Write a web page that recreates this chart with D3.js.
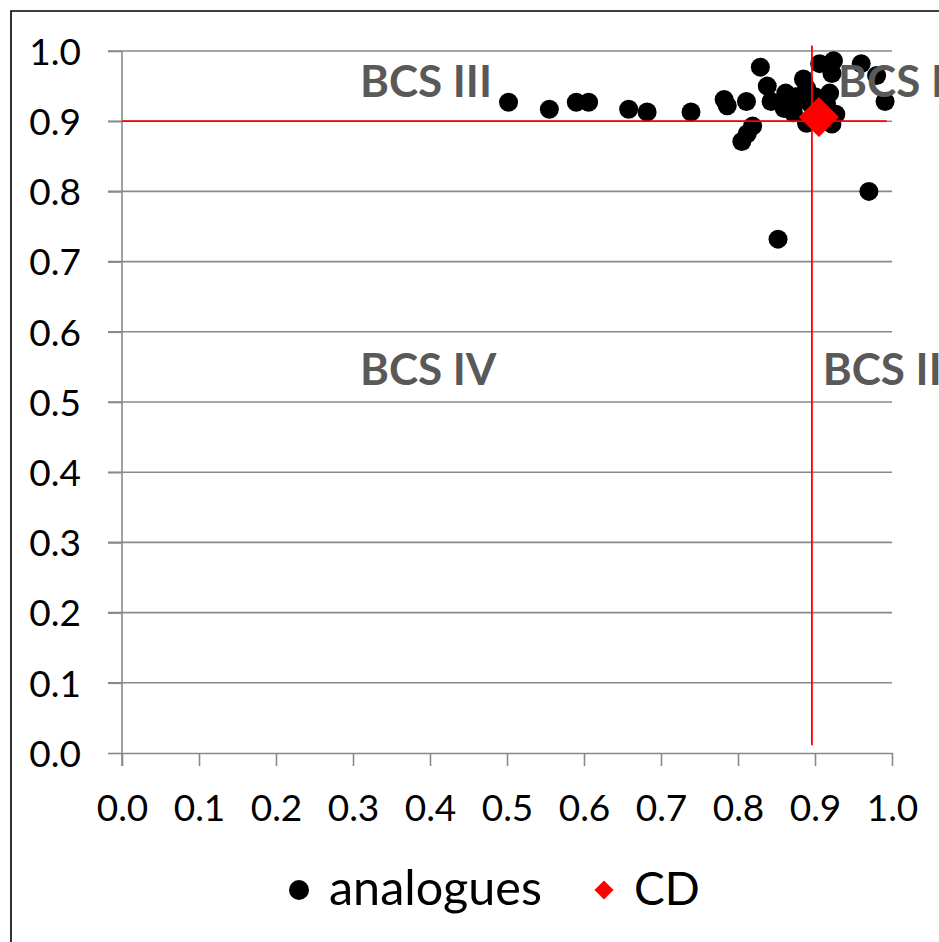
<!DOCTYPE html>
<html><head><meta charset="utf-8">
<script src="https://cdn.jsdelivr.net/npm/d3@7"></script>
<style>
html,body{margin:0;padding:0;background:#fff;}
svg{display:block;}
</style></head>
<body>
<svg id="chart" width="939" height="942"></svg>
<script>
const xTicks = [0,0.1,0.2,0.3,0.4,0.5,0.6,0.7,0.8,0.9,1.0];
const yTicks = [0,0.1,0.2,0.3,0.4,0.5,0.6,0.7,0.8,0.9,1.0];
const analoguesX = [0.502,0.555,0.590,0.606,0.658,0.682,0.739,
  0.782,0.786,0.811,0.829,0.838,0.843,0.805,0.812,0.819,
  0.862,0.860,0.872,0.885,0.889,0.894,0.889,0.880,0.875,0.900,
  0.906,0.924,0.922,0.919,0.922,0.927,0.915,
  0.960,0.980,0.991,0.970,0.852];
const analoguesY = [0.927,0.917,0.927,0.927,0.917,0.913,0.913,
  0.931,0.922,0.928,0.977,0.950,0.928,0.871,0.882,0.893,
  0.940,0.918,0.912,0.960,0.947,0.925,0.897,0.930,0.935,0.935,
  0.982,0.986,0.968,0.940,0.896,0.910,0.925,
  0.982,0.965,0.928,0.800,0.732];
const cdX = [0.905];
const cdY = [0.906];
const hLineX = [0, 0.993], hLineY = [0.9, 0.9];
const vLineX = [0.896, 0.896], vLineY = [0.011, 1.008];
const regionLabels = ["BCS III","BCS I","BCS IV","BCS II"];
const regionLabelX = [0.309, 0.930, 0.309, 0.910];
const regionLabelY = [0.934, 0.934, 0.524, 0.524];
const seriesNames = ["analogues","CD"];

const FONT = "Lato, 'Open Sans', sans-serif";
const svg = d3.select("#chart");
const x = d3.scaleLinear().domain([0,1]).range([122,892]);
const y = d3.scaleLinear().domain([0,1]).range([753,51]);
const GRID = "#898989";

// outer chart border (cropped at right/bottom)
svg.append("path").attr("d","M11,960 L11,11 L960,11")
  .attr("fill","none").attr("stroke","#000").attr("stroke-width",1.6);

// gridlines
svg.append("g").selectAll("line").data(yTicks.filter(d=>d>0)).join("line")
  .attr("x1",108).attr("x2",x(1)).attr("y1",d=>y(d)).attr("y2",d=>y(d))
  .attr("stroke",GRID).attr("stroke-width",1.6);

// y axis
const yAxis = svg.append("g").attr("transform","translate(122,0)")
  .call(d3.axisLeft(y).tickValues(yTicks).tickFormat(d3.format(".1f")).tickSize(14).tickSizeOuter(0).tickPadding(27));
// x axis
const xAxis = svg.append("g").attr("transform","translate(0,753)")
  .call(d3.axisBottom(x).tickValues(xTicks).tickFormat(d3.format(".1f")).tickSize(13).tickSizeOuter(0));
[yAxis,xAxis].forEach(a=>{
  a.select(".domain").attr("stroke",GRID).attr("stroke-width",1.6);
  a.selectAll(".tick line").attr("stroke",GRID).attr("stroke-width",1.6);
  a.selectAll("text").attr("font-family",FONT).attr("font-size",37).attr("fill","#000");
});
yAxis.select(".domain").attr("d","M0,51V766");
xAxis.selectAll("text").attr("y",68).attr("dy",0);
yAxis.selectAll("text").attr("dy","0.36em");

// analogues
svg.append("g").selectAll("circle").data(analoguesX.map((d,i)=>[d,analoguesY[i]])).join("circle")
  .attr("cx",d=>x(d[0])).attr("cy",d=>y(d[1])).attr("r",9.5).attr("fill","#000");

// red reference lines
const line = d3.line().x(d=>x(d[0])).y(d=>y(d[1]));
svg.append("path").attr("d",line(hLineX.map((d,i)=>[d,hLineY[i]])))
  .attr("stroke","#ff0000").attr("stroke-width",1.8).attr("fill","none");
svg.append("path").attr("d",line(vLineX.map((d,i)=>[d,vLineY[i]])))
  .attr("stroke","#ff0000").attr("stroke-width",1.8).attr("fill","none");

// CD diamond
const diamond = s => `M0,${-s}L${s},0L0,${s}L${-s},0Z`;
svg.append("g").selectAll("path").data(cdX.map((d,i)=>[d,cdY[i]])).join("path")
  .attr("transform",d=>`translate(${x(d[0])},${y(d[1])})`)
  .attr("d",diamond(20)).attr("fill","#ff0000");

// region labels
svg.append("g").selectAll("text").data(regionLabels).join("text")
  .attr("x",(d,i)=>x(regionLabelX[i])).attr("y",(d,i)=>y(regionLabelY[i]))
  .attr("font-family",FONT).attr("font-weight","bold").attr("font-size",44)
  .attr("fill","#595959").text(d=>d);

// legend
const lg = svg.append("g");
lg.append("circle").attr("cx",299).attr("cy",890).attr("r",10).attr("fill","#000");
lg.append("text").attr("x",329).attr("y",905).attr("font-family",FONT).attr("font-size",48.5).text(seriesNames[0]);
lg.append("path").attr("transform","translate(604,890)").attr("d",diamond(9.5)).attr("fill","#ff0000");
lg.append("text").attr("x",634).attr("y",905).attr("font-family",FONT).attr("font-size",46).text(seriesNames[1]);
</script>
</body></html>
